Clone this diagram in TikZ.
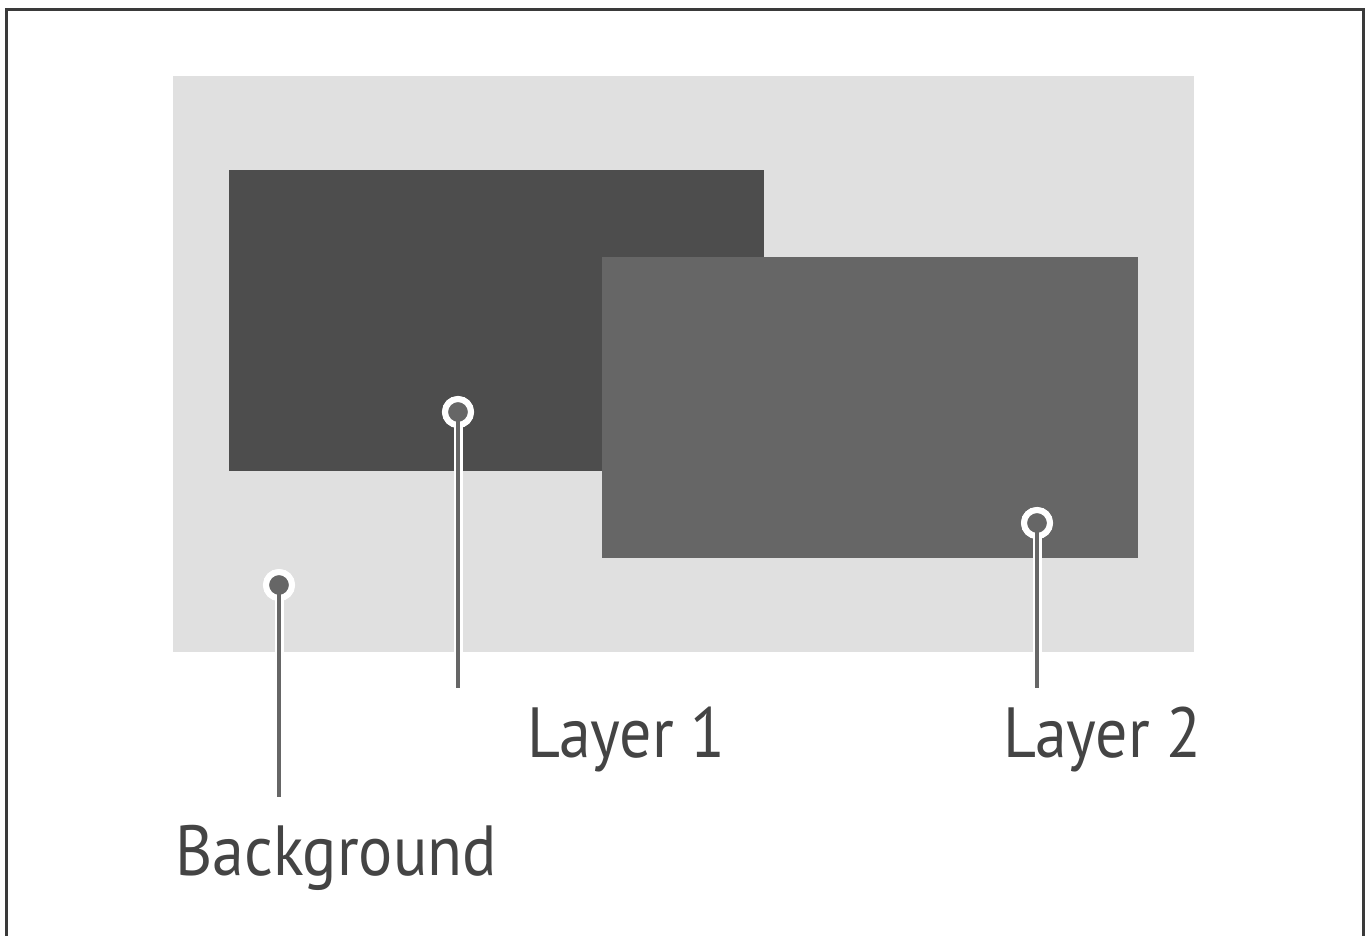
\documentclass[tikz,border=0pt]{standalone}
\usepackage{fontspec}
\setmainfont{PT Sans}
\definecolor{bgfill}{HTML}{E0E0E0}
\definecolor{layerone}{HTML}{4D4D4D}
\definecolor{layertwo}{HTML}{666666}
\definecolor{pin}{HTML}{666666}
\definecolor{frame}{HTML}{3A3A3A}
\definecolor{txt}{HTML}{444444}
\begin{document}
\begin{tikzpicture}[x=1pt,y=-1pt,
  pindot/.style={circle,fill=pin,draw=white,line width=6pt,minimum size=26pt,inner sep=0pt},
  pinhalo/.style={draw=white,line width=9pt},
  pinline/.style={draw=pin,line width=3.5pt},
  lbl/.style={font=\fontsize{71}{80}\selectfont,text=txt,inner sep=0pt,xscale=0.9}]
\useasboundingbox (0,0) rectangle (1370,935);
\fill[white] (0,0) rectangle (1370,935);
\draw[frame,line width=3pt] (6,9) rectangle (1363,960);
\node[fill=bgfill,minimum width=1021pt,minimum height=576pt,inner sep=0pt,anchor=north west] (bg) at (173,76) {};
\node[fill=layerone,minimum width=535pt,minimum height=301pt,inner sep=0pt,anchor=north west] (l1) at (229,170) {};
\node[fill=layertwo,minimum width=536pt,minimum height=301pt,inner sep=0pt,anchor=north west] (l2) at (602,257) {};
% pins
\coordinate (p1end) at (458,688);
\coordinate (pbend) at (279,797);
\coordinate (p2end) at (1037,688);
\node[pindot] (p1) at (458,412) {};
\node[pindot] (pb) at (279,585) {};
\node[pindot] (p2) at (1037,523) {};
\draw[pinhalo] (p1.center) -- (p1end);
\draw[pinhalo] (pb.center) -- (pbend);
\draw[pinhalo] (p2.center) -- (p2end);
\node[pindot] at (p1) {};
\node[pindot] at (pb) {};
\node[pindot] at (p2) {};
\draw[pinline] (p1.center) ++(0,8) -- (p1end);
\draw[pinline] (pb.center) ++(0,8) -- (pbend);
\draw[pinline] (p2.center) ++(0,8) -- (p2end);
% labels
\node[lbl,anchor=base west] (t1) at (527,757) {Layer 1};
\node[lbl,anchor=base west] (t2) at (1003,757) {Layer 2};
\node[lbl,anchor=base west] (tb) at (175,875) {Background};
\end{tikzpicture}
\end{document}
